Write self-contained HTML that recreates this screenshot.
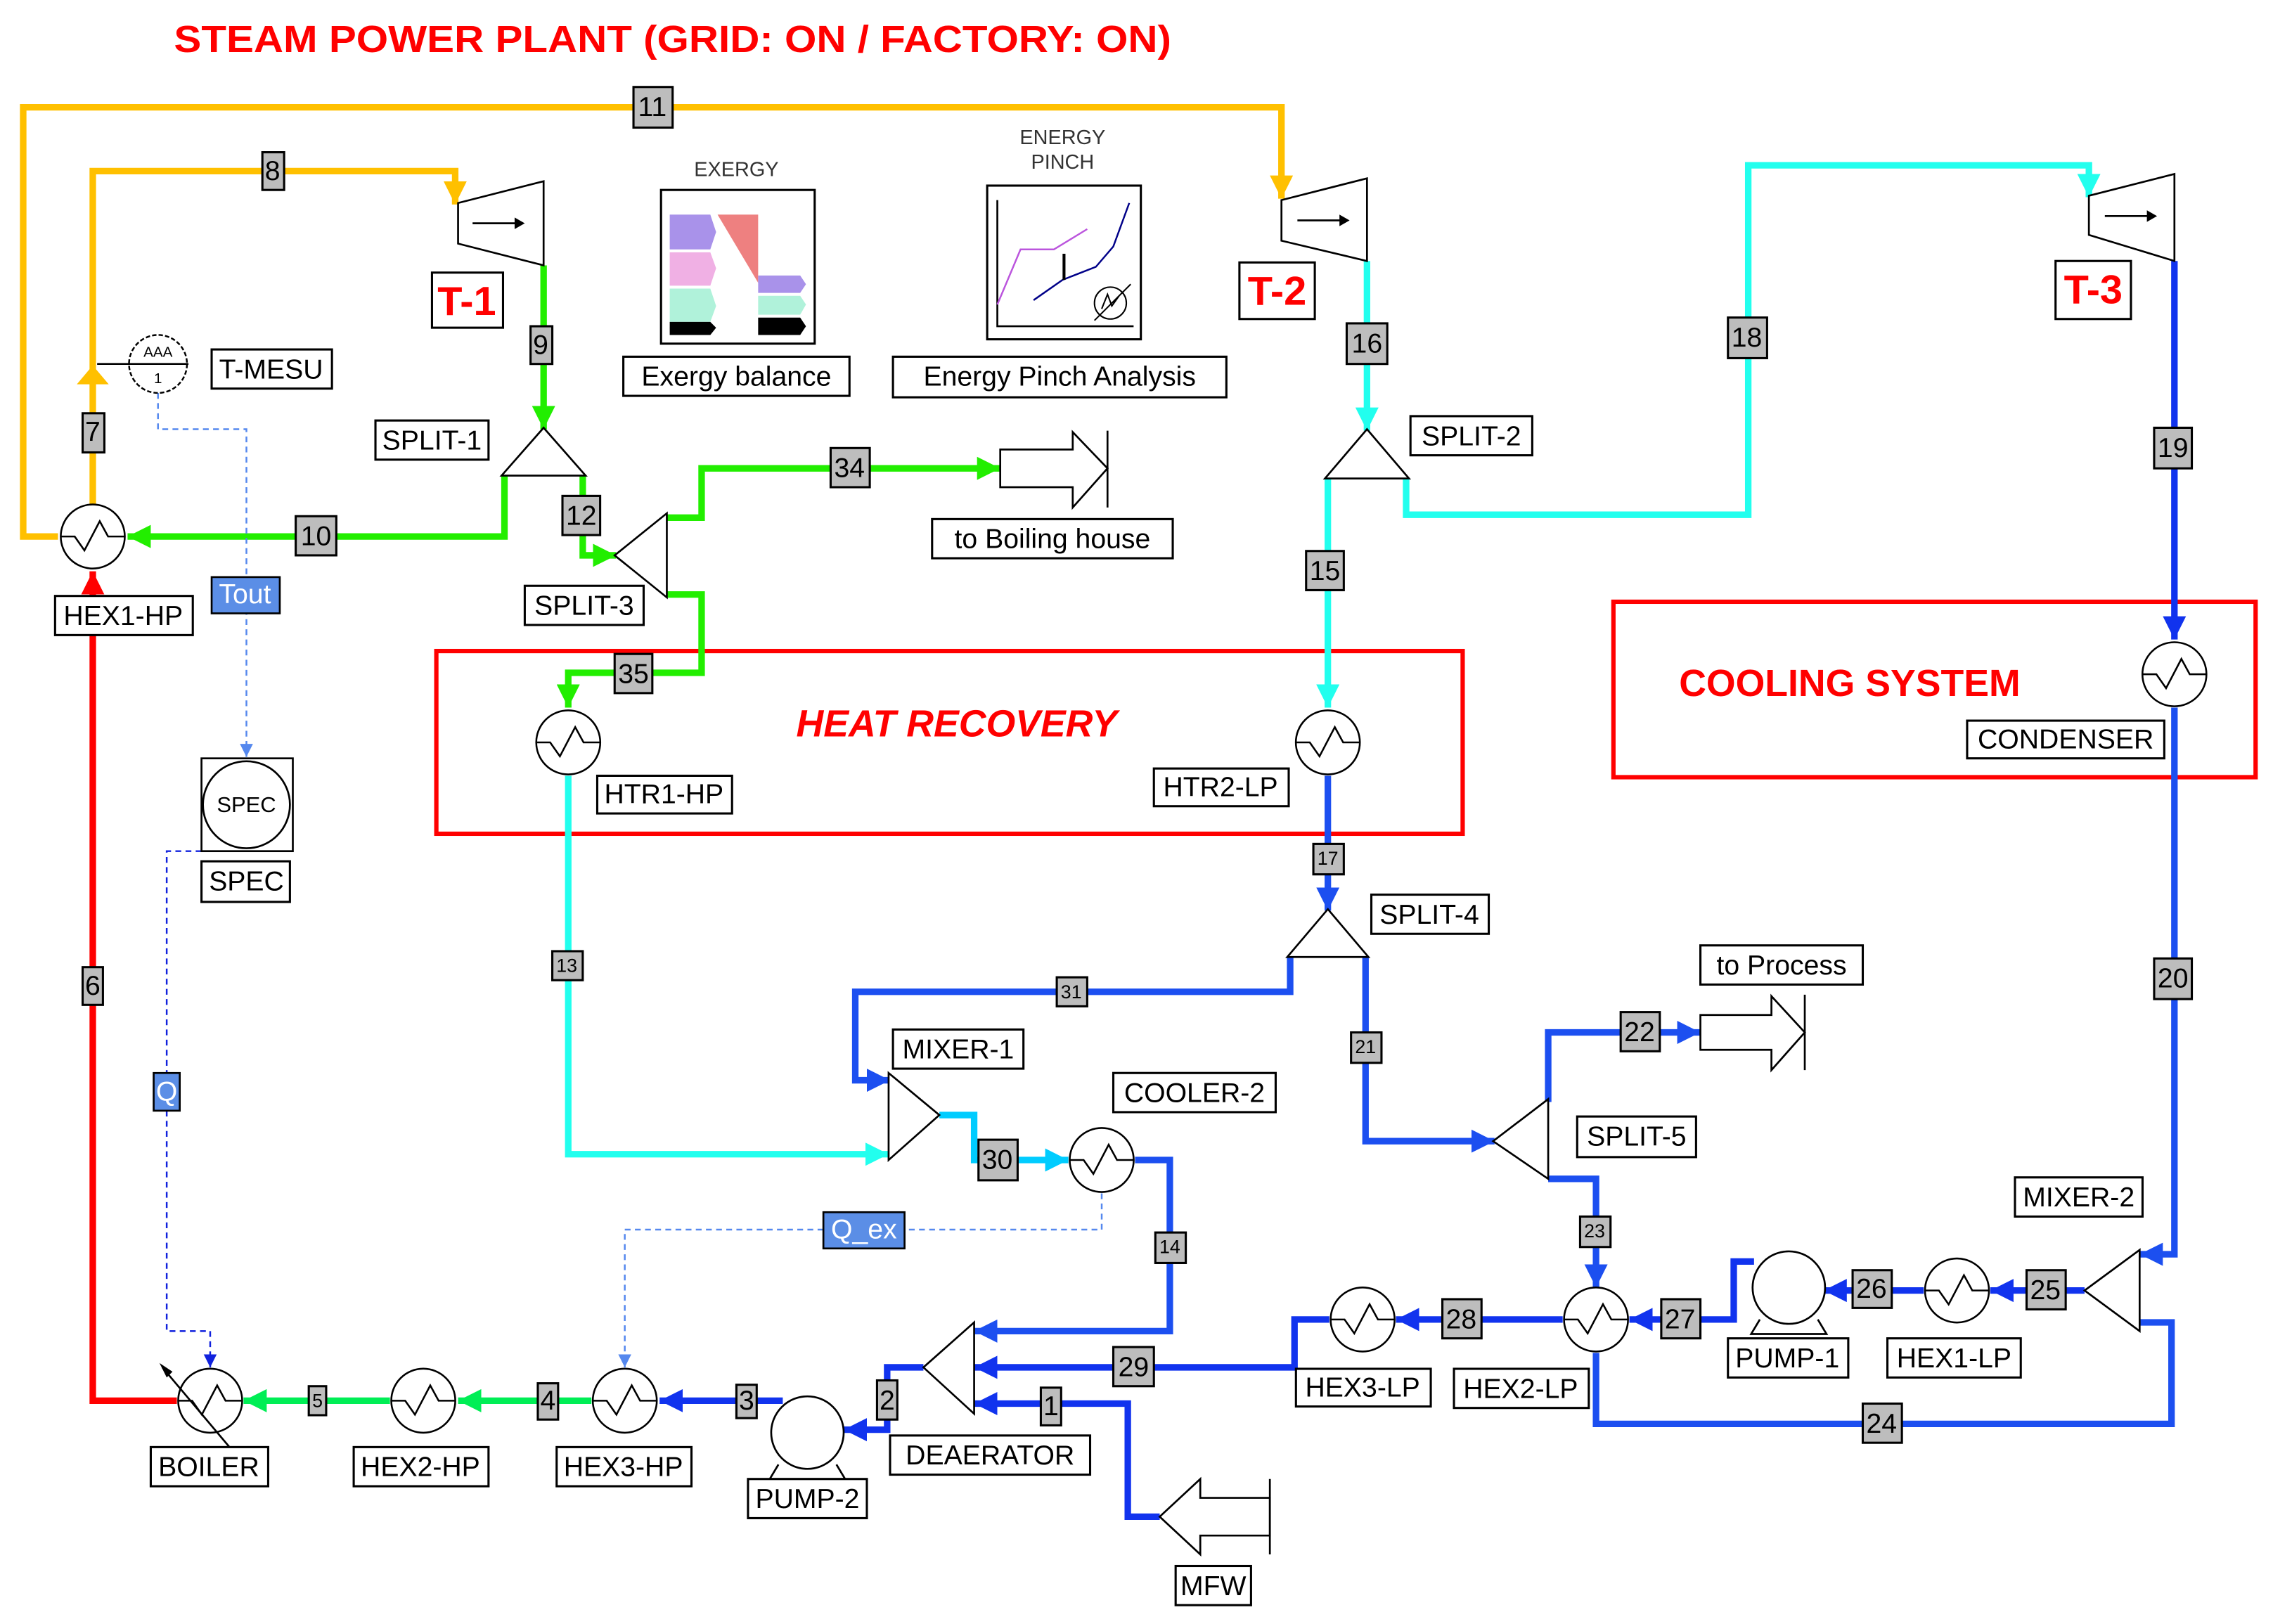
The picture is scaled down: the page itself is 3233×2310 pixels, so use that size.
<!DOCTYPE html>
<html><head><meta charset="utf-8"><style>
html,body{margin:0;padding:0;background:#fff;}
svg{display:block;}
text{font-family:"Liberation Sans",sans-serif;}
.n{font-size:19px;fill:#000;text-anchor:middle;dominant-baseline:central;}
.s{font-size:13px;fill:#000;text-anchor:middle;dominant-baseline:central;}
.b{fill:#fff;stroke:#000;stroke-width:1.5;}
.g{fill:#bdbdbd;stroke:#000;stroke-width:1.5;}
.p{fill:none;stroke-width:4.5;stroke-linejoin:miter;}
.k{fill:none;stroke:#000;stroke-width:1.3;}
</style></head><body>
<svg width="3233" height="2310" viewBox="0 0 1568 1120" preserveAspectRatio="none" xmlns="http://www.w3.org/2000/svg">
<defs>
<marker id="mo" viewBox="0 0 10 10" refX="10" refY="5" markerWidth="16" markerHeight="16" markerUnits="userSpaceOnUse" orient="auto"><path d="M0,0L10,5L0,10z" fill="#FFC000"/></marker>
<marker id="mg" viewBox="0 0 10 10" refX="10" refY="5" markerWidth="16" markerHeight="16" markerUnits="userSpaceOnUse" orient="auto"><path d="M0,0L10,5L0,10z" fill="#22EE00"/></marker>
<marker id="mg2" viewBox="0 0 10 10" refX="10" refY="5" markerWidth="16" markerHeight="16" markerUnits="userSpaceOnUse" orient="auto"><path d="M0,0L10,5L0,10z" fill="#00EE55"/></marker>
<marker id="mc" viewBox="0 0 10 10" refX="10" refY="5" markerWidth="16" markerHeight="16" markerUnits="userSpaceOnUse" orient="auto"><path d="M0,0L10,5L0,10z" fill="#22FFEE"/></marker>
<marker id="ml" viewBox="0 0 10 10" refX="10" refY="5" markerWidth="16" markerHeight="16" markerUnits="userSpaceOnUse" orient="auto"><path d="M0,0L10,5L0,10z" fill="#00CCFF"/></marker>
<marker id="mb" viewBox="0 0 10 10" refX="10" refY="5" markerWidth="16" markerHeight="16" markerUnits="userSpaceOnUse" orient="auto"><path d="M0,0L10,5L0,10z" fill="#1133EE"/></marker>
<marker id="mb2" viewBox="0 0 10 10" refX="10" refY="5" markerWidth="16" markerHeight="16" markerUnits="userSpaceOnUse" orient="auto"><path d="M0,0L10,5L0,10z" fill="#1C4FF0"/></marker>
<marker id="mr" viewBox="0 0 10 10" refX="10" refY="5" markerWidth="16" markerHeight="16" markerUnits="userSpaceOnUse" orient="auto"><path d="M0,0L10,5L0,10z" fill="#FF0000"/></marker>
<marker id="md" viewBox="0 0 10 10" refX="10" refY="5" markerWidth="9" markerHeight="9" markerUnits="userSpaceOnUse" orient="auto"><path d="M0,0L10,5L0,10z" fill="#5588EE"/></marker>
<marker id="mdd" viewBox="0 0 10 10" refX="10" refY="5" markerWidth="9" markerHeight="9" markerUnits="userSpaceOnUse" orient="auto"><path d="M0,0L10,5L0,10z" fill="#1122DD"/></marker>
<symbol id="hx" viewBox="-25 -25 50 50" overflow="visible"><circle cx="0" cy="0" r="23" fill="#fff" stroke="#000" stroke-width="1.3"/><polyline points="-23,0 -13,0 -6,10 5,-11 11,0 23,0" fill="none" stroke="#000" stroke-width="1.3"/></symbol>
</defs>

<text x="120" y="36" font-size="26" font-weight="bold" fill="#FF0000" textLength="688" lengthAdjust="spacingAndGlyphs">STEAM POWER PLANT (GRID: ON / FACTORY: ON)</text>

<rect x="301" y="449" width="708" height="126" fill="none" stroke="#FF0000" stroke-width="3"/>
<text x="660" y="508" font-size="26" font-weight="bold" font-style="italic" fill="#FF0000" text-anchor="middle">HEAT RECOVERY</text>
<rect x="1113" y="415" width="443" height="121" fill="none" stroke="#FF0000" stroke-width="3"/>
<text x="1276" y="480" font-size="26" font-weight="bold" fill="#FF0000" text-anchor="middle">COOLING SYSTEM</text>

<path class="p" stroke="#FFC000" d="M40,370 H16 V74 H884 V137" marker-end="url(#mo)"/>
<path class="p" stroke="#FFC000" d="M64,348 V118 H314 V141" marker-end="url(#mo)"/>
<path d="M53,265 L64,252 L75,265z" fill="#FFC000"/>
<path class="p" stroke="#22EE00" d="M375,183 V296" marker-end="url(#mg)"/>
<path class="p" stroke="#22EE00" d="M348,328 V370 H88" marker-end="url(#mg)"/>
<path class="p" stroke="#22EE00" d="M402,328 V383 H425" marker-end="url(#mg)"/>
<path class="p" stroke="#22EE00" d="M460,357 H484 V323 H690" marker-end="url(#mg)"/>
<path class="p" stroke="#22EE00" d="M460,410 H484 V464 H392 V488" marker-end="url(#mg)"/>
<path class="p" stroke="#FF0000" d="M122,966 H64 V394" marker-end="url(#mr)"/>
<path class="p" stroke="#22FFEE" d="M943,180 V297" marker-end="url(#mc)"/>
<path class="p" stroke="#22FFEE" d="M970,330 V355 H1206 V114 H1441 V136" marker-end="url(#mc)"/>
<path class="p" stroke="#22FFEE" d="M916,330 V488" marker-end="url(#mc)"/>
<path class="p" stroke="#22FFEE" d="M392,535 V796 H613" marker-end="url(#mc)"/>
<path class="p" stroke="#00CCFF" d="M648,769 H672 V800 H737" marker-end="url(#ml)"/>
<path class="p" stroke="#1133EE" d="M1500,180 V441" marker-end="url(#mb)"/>
<path class="p" stroke="#1C4FF0" d="M1500,488 V865 H1476" marker-end="url(#mb2)"/>
<path class="p" stroke="#1C4FF0" d="M1476,912 H1498 V982 H1101 V933"/>
<path class="p" stroke="#1133EE" d="M1438,890 H1373" marker-end="url(#mb)"/>
<path class="p" stroke="#1133EE" d="M1327,890 H1258" marker-end="url(#mb)"/>
<path class="p" stroke="#1133EE" d="M1210,870 H1196 V910 H1124" marker-end="url(#mb)"/>
<path class="p" stroke="#1133EE" d="M1078,910 H963" marker-end="url(#mb)"/>
<path class="p" stroke="#1133EE" d="M917,910 H893 V943 H672" marker-end="url(#mb)"/>
<path class="p" stroke="#1C4FF0" d="M916,535 V628" marker-end="url(#mb2)"/>
<path class="p" stroke="#1C4FF0" d="M890,660 V684 H590 V745 H614" marker-end="url(#mb2)"/>
<path class="p" stroke="#1C4FF0" d="M942,660 V787 H1031" marker-end="url(#mb2)"/>
<path class="p" stroke="#1C4FF0" d="M1068,760 V712 H1173" marker-end="url(#mb2)"/>
<path class="p" stroke="#1C4FF0" d="M1068,813 H1101 V888" marker-end="url(#mb2)"/>
<path class="p" stroke="#1C4FF0" d="M783,800 H807 V918 H672" marker-end="url(#mb2)"/>
<path class="p" stroke="#1133EE" d="M800,1046 H778 V968 H672" marker-end="url(#mb)"/>
<path class="p" stroke="#1133EE" d="M637,943 H612 V986 H582" marker-end="url(#mb)"/>
<path class="p" stroke="#1133EE" d="M540,966 H455" marker-end="url(#mb)"/>
<path class="p" stroke="#00EE55" d="M408,966 H316" marker-end="url(#mg2)"/>
<path class="p" stroke="#00EE55" d="M269,966 H168" marker-end="url(#mg2)"/>

<path d="M109,271 V296 H170 V522" fill="none" stroke="#5588EE" stroke-width="1.2" stroke-dasharray="4,3" marker-end="url(#md)"/>
<path d="M760,823 V848 H431 V943" fill="none" stroke="#5588EE" stroke-width="1.2" stroke-dasharray="4,3" marker-end="url(#md)"/>
<path d="M139,587 H115 V918 H145 V943" fill="none" stroke="#1122DD" stroke-width="1.2" stroke-dasharray="4,3" marker-end="url(#mdd)"/>

<g class="k"><path d="M316,140 L375,125 V183 L316,168z" fill="#fff"/><path d="M326,154 H356"/></g><path d="M355,150 L362,154 L355,158z"/>
<g class="k"><path d="M884,138 L943,123 V180 L884,166z" fill="#fff"/><path d="M895,152 H925"/></g><path d="M924,148 L931,152 L924,156z"/>
<g class="k"><path d="M1441,135 L1500,120 V180 L1441,162z" fill="#fff"/><path d="M1452,149 H1482"/></g><path d="M1481,145 L1488,149 L1481,153z"/>
<rect class="b" x="298" y="188" width="49" height="38"/><text x="322" y="208" font-size="28" font-weight="bold" fill="#FF0000" text-anchor="middle" dominant-baseline="central">T-1</text>
<rect class="b" x="855" y="181" width="52" height="39"/><text x="881" y="201" font-size="28" font-weight="bold" fill="#FF0000" text-anchor="middle" dominant-baseline="central">T-2</text>
<rect class="b" x="1418" y="180" width="52" height="40"/><text x="1444" y="200" font-size="28" font-weight="bold" fill="#FF0000" text-anchor="middle" dominant-baseline="central">T-3</text>

<g class="k" fill="#fff">
<path d="M375,295 L346,328 H404z" fill="#fff"/>
<path d="M943,296 L914,330 H972z" fill="#fff"/>
<path d="M916,627 L888,660 H944z" fill="#fff"/>
<path d="M424,383 L460,354 V412z" fill="#fff"/>
<path d="M1030,787 L1068,758 V813z" fill="#fff"/>
<path d="M1438,890 L1476,862 V918z" fill="#fff"/>
<path d="M613,740 L648,769 L613,800z" fill="#fff"/>
<path d="M637,943 L672,912 V975z" fill="#fff"/>
</g>

<use href="#hx" x="40" y="346" width="48" height="48"/>
<use href="#hx" x="368" y="488" width="48" height="48"/>
<use href="#hx" x="892" y="488" width="48" height="48"/>
<use href="#hx" x="1476" y="441" width="48" height="48"/>
<use href="#hx" x="736" y="776" width="48" height="48"/>
<use href="#hx" x="1326" y="866" width="48" height="48"/>
<use href="#hx" x="1077" y="886" width="48" height="48"/>
<use href="#hx" x="916" y="886" width="48" height="48"/>
<use href="#hx" x="407" y="942" width="48" height="48"/>
<use href="#hx" x="268" y="942" width="48" height="48"/>
<use href="#hx" x="121" y="942" width="48" height="48"/>
<path d="M112,943 L160,1000" class="k"/><path d="M110,940 L115,950 L119,946z"/>

<g class="k"><circle cx="1234" cy="888" r="25" fill="#fff"/><path d="M1214,910 L1208,920 H1260 L1254,910"/></g>
<g class="k"><circle cx="557" cy="988" r="25" fill="#fff"/><path d="M537,1010 L531,1020 H583 L577,1010"/></g>

<circle cx="109" cy="251" r="20" fill="#fff" stroke="#000" stroke-width="1.2" stroke-dasharray="3,1.5"/>
<path d="M67,251 H130" class="k"/>
<text x="109" y="243" font-size="10" text-anchor="middle" dominant-baseline="central">AAA</text>
<text x="109" y="261" font-size="10" text-anchor="middle" dominant-baseline="central">1</text>

<rect x="139" y="523" width="63" height="64" fill="#fff" stroke="#000" stroke-width="1.3"/>
<circle cx="170" cy="555" r="30" fill="#fff" stroke="#000" stroke-width="1.3"/>
<text x="170" y="555" font-size="15" text-anchor="middle" dominant-baseline="central">SPEC</text>

<g class="k" fill="#fff"><path d="M690,310 H740 V298 L764,323 L740,350 V336 H690z" fill="#fff"/><path d="M764,297 V350"/></g>
<g class="k" fill="#fff"><path d="M1173,700 H1222 V687 L1245,712 L1222,738 V724 H1173z" fill="#fff"/><path d="M1245,686 V738"/></g>
<g class="k" fill="#fff"><path d="M876,1033 H828 V1020 L800,1046 L828,1072 V1059 H876z" fill="#fff"/><path d="M876,1020 V1072"/></g>

<text x="508" y="117" font-size="14" text-anchor="middle" dominant-baseline="central" fill="#333">EXERGY</text>
<rect x="456" y="131" width="106" height="106" fill="#fff" stroke="#000" stroke-width="1.5"/>
<path d="M462,148 H490 L494,160 L490,172 H462z" fill="#A992EA"/>
<path d="M462,174 H490 L494,185 L490,197 H462z" fill="#F0B0E4"/>
<path d="M462,199 H490 L494,211 L490,222 H462z" fill="#B0F2DA"/>
<path d="M462,222 H490 L494,226 L490,231 H462z" fill="#000"/>
<path d="M495,148 H523 V195z" fill="#EE8080"/>
<path d="M523,190 H552 L556,196 L552,202 H523z" fill="#A992EA"/>
<path d="M523,204 H552 L556,210 L552,217 H523z" fill="#B0F2DA"/>
<path d="M523,219 H552 L556,225 L552,231 H523z" fill="#000"/>
<text x="733" y="95" font-size="14" text-anchor="middle" dominant-baseline="central" fill="#333">ENERGY</text>
<text x="733" y="112" font-size="14" text-anchor="middle" dominant-baseline="central" fill="#333">PINCH</text>
<rect x="681" y="128" width="106" height="106" fill="#fff" stroke="#000" stroke-width="1.5"/>
<path d="M688,138 V225 H782" class="k"/>
<path d="M688,210 L704,172 H727 L750,158" fill="none" stroke="#BB55DD" stroke-width="1.2"/>
<path d="M713,207 L733,193 L756,184 L768,170 L779,140" fill="none" stroke="#000088" stroke-width="1.2"/>
<path d="M734,175 V193" stroke="#000" stroke-width="2"/>
<circle cx="766" cy="209" r="11" fill="none" stroke="#000" stroke-width="1"/>
<path d="M755,221 L780,196 M760,213 L764,203 L767,211 L772,204" fill="none" stroke="#000" stroke-width="1"/>

<g>
<rect class="b" x="146" y="241" width="83" height="27"/><text class="n" x="187" y="255">T-MESU</text>
<rect class="b" x="259" y="290" width="78" height="27"/><text class="n" x="298" y="304">SPLIT-1</text>
<rect class="b" x="362" y="404" width="82" height="27"/><text class="n" x="403" y="418">SPLIT-3</text>
<rect class="b" x="38" y="411" width="95" height="27"/><text class="n" x="85" y="425">HEX1-HP</text>
<rect class="b" x="430" y="246" width="156" height="27"/><text class="n" x="508" y="260">Exergy balance</text>
<rect class="b" x="616" y="246" width="230" height="28"/><text class="n" x="731" y="260">Energy Pinch Analysis</text>
<rect class="b" x="643" y="358" width="166" height="27"/><text class="n" x="726" y="372">to Boiling house</text>
<rect class="b" x="973" y="287" width="84" height="27"/><text class="n" x="1015" y="301">SPLIT-2</text>
<rect class="b" x="412" y="535" width="93" height="26"/><text class="n" x="458" y="548">HTR1-HP</text>
<rect class="b" x="796" y="530" width="93" height="26"/><text class="n" x="842" y="543">HTR2-LP</text>
<rect class="b" x="1357" y="497" width="136" height="26"/><text class="n" x="1425" y="510">CONDENSER</text>
<rect class="b" x="139" y="594" width="61" height="28"/><text class="n" x="170" y="608">SPEC</text>
<rect class="b" x="946" y="617" width="81" height="27"/><text class="n" x="986" y="631">SPLIT-4</text>
<rect class="b" x="1173" y="652" width="112" height="27"/><text class="n" x="1229" y="666">to Process</text>
<rect class="b" x="616" y="710" width="90" height="27"/><text class="n" x="661" y="724">MIXER-1</text>
<rect class="b" x="768" y="740" width="112" height="27"/><text class="n" x="824" y="754">COOLER-2</text>
<rect class="b" x="1088" y="770" width="82" height="28"/><text class="n" x="1129" y="784">SPLIT-5</text>
<rect class="b" x="1390" y="812" width="88" height="27"/><text class="n" x="1434" y="826">MIXER-2</text>
<rect class="b" x="1302" y="923" width="92" height="27"/><text class="n" x="1348" y="937">HEX1-LP</text>
<rect class="b" x="1192" y="923" width="83" height="27"/><text class="n" x="1233" y="937">PUMP-1</text>
<rect class="b" x="1003" y="944" width="93" height="27"/><text class="n" x="1049" y="958">HEX2-LP</text>
<rect class="b" x="894" y="944" width="93" height="26"/><text class="n" x="940" y="957">HEX3-LP</text>
<rect class="b" x="614" y="990" width="138" height="27"/><text class="n" x="683" y="1004">DEAERATOR</text>
<rect class="b" x="104" y="998" width="81" height="27"/><text class="n" x="144" y="1012">BOILER</text>
<rect class="b" x="244" y="998" width="93" height="27"/><text class="n" x="290" y="1012">HEX2-HP</text>
<rect class="b" x="384" y="998" width="93" height="27"/><text class="n" x="430" y="1012">HEX3-HP</text>
<rect class="b" x="516" y="1020" width="82" height="27"/><text class="n" x="557" y="1034">PUMP-2</text>
<rect class="b" x="811" y="1080" width="52" height="27"/><text class="n" x="837" y="1094">MFW</text>
</g>

<rect x="146" y="398" width="47" height="25" fill="#5B8EE6" stroke="#000" stroke-width="1.3"/><text class="n" x="169" y="410" style="fill:#fff">Tout</text>
<rect x="568" y="836" width="56" height="25" fill="#5B8EE6" stroke="#000" stroke-width="1.3"/><text class="n" x="596" y="848" style="fill:#fff">Q_ex</text>
<rect x="106" y="740" width="18" height="26" fill="#5B8EE6" stroke="#000" stroke-width="1.3"/><text class="n" x="115" y="753" style="fill:#fff">Q</text>

<g>
<rect class="g" x="437" y="60" width="27" height="28"/><text class="n" x="450" y="74">11</text>
<rect class="g" x="181" y="105" width="15" height="26"/><text class="n" x="188" y="118">8</text>
<rect class="g" x="57" y="285" width="15" height="27"/><text class="n" x="64" y="298">7</text>
<rect class="g" x="366" y="225" width="15" height="26"/><text class="n" x="373" y="238">9</text>
<rect class="g" x="204" y="356" width="28" height="27"/><text class="n" x="218" y="370">10</text>
<rect class="g" x="388" y="342" width="26" height="27"/><text class="n" x="401" y="356">12</text>
<rect class="g" x="573" y="309" width="27" height="27"/><text class="n" x="586" y="323">34</text>
<rect class="g" x="424" y="451" width="26" height="27"/><text class="n" x="437" y="465">35</text>
<rect class="g" x="929" y="223" width="28" height="28"/><text class="n" x="943" y="237">16</text>
<rect class="g" x="1192" y="219" width="27" height="28"/><text class="n" x="1205" y="233">18</text>
<rect class="g" x="1486" y="295" width="26" height="28"/><text class="n" x="1499" y="309">19</text>
<rect class="g" x="901" y="380" width="26" height="27"/><text class="n" x="914" y="394">15</text>
<rect class="g" x="1486" y="661" width="26" height="28"/><text class="n" x="1499" y="675">20</text>
<rect class="g" x="1118" y="698" width="27" height="27"/><text class="n" x="1131" y="712">22</text>
<rect class="g" x="675" y="786" width="27" height="28"/><text class="n" x="688" y="800">30</text>
<rect class="g" x="1398" y="876" width="27" height="27"/><text class="n" x="1411" y="890">25</text>
<rect class="g" x="1278" y="876" width="27" height="26"/><text class="n" x="1291" y="889">26</text>
<rect class="g" x="1146" y="896" width="27" height="27"/><text class="n" x="1159" y="910">27</text>
<rect class="g" x="995" y="896" width="27" height="27"/><text class="n" x="1008" y="910">28</text>
<rect class="g" x="1285" y="968" width="27" height="27"/><text class="n" x="1298" y="982">24</text>
<rect class="g" x="768" y="929" width="28" height="27"/><text class="n" x="782" y="943">29</text>
<rect class="g" x="718" y="957" width="14" height="26"/><text class="n" x="725" y="970">1</text>
<rect class="g" x="605" y="952" width="14" height="27"/><text class="n" x="612" y="966">2</text>
<rect class="g" x="508" y="955" width="14" height="23"/><text class="n" x="515" y="966">3</text>
<rect class="g" x="371" y="954" width="14" height="25"/><text class="n" x="378" y="966">4</text>
<rect class="g" x="213" y="956" width="12" height="20"/><text class="s" x="219" y="966">5</text>
<rect class="g" x="57" y="667" width="14" height="26"/><text class="n" x="64" y="680">6</text>
<rect class="g" x="381" y="656" width="21" height="20"/><text class="s" x="391" y="666">13</text>
<rect class="g" x="906" y="582" width="21" height="21"/><text class="s" x="916" y="592">17</text>
<rect class="g" x="729" y="674" width="21" height="20"/><text class="s" x="739" y="684">31</text>
<rect class="g" x="932" y="712" width="21" height="21"/><text class="s" x="942" y="722">21</text>
<rect class="g" x="1090" y="839" width="21" height="21"/><text class="s" x="1100" y="849">23</text>
<rect class="g" x="797" y="850" width="21" height="21"/><text class="s" x="807" y="860">14</text>
</g>
</svg>
</body></html>
